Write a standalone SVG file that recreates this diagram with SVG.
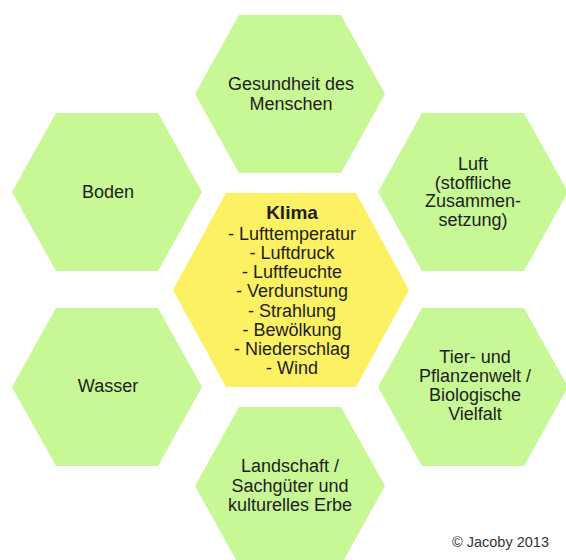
<svg xmlns="http://www.w3.org/2000/svg" width="566" height="560" viewBox="0 0 566 560">
<style>
.hex{fill:#c8f795;}
.core{fill:#fbf163;}
.t{font-family:"Liberation Sans",Arial,sans-serif;font-size:18px;fill:#1e1e1e;text-anchor:middle;}
.b{font-weight:bold;font-size:19px;}
.c{font-family:"Liberation Sans",Arial,sans-serif;font-size:14.5px;fill:#333;}
</style>
<rect width="566" height="560" fill="#ffffff"/>
<g id="gesundheit">
<polygon class="hex" points="195,94 239,15 341,15 385,94 341,173 239,173"/>
<text class="t" x="291" y="90">Gesundheit des<tspan x="291" y="110">Menschen</tspan></text>
</g>
<g id="boden">
<polygon class="hex" points="12,192 56,113 158,113 202,192 158,271 56,271"/>
<text class="t" x="108" y="198">Boden</text>
</g>
<g id="luft">
<polygon class="hex" points="378,192 422,113 524,113 568,192 524,271 422,271"/>
<text class="t" x="473" y="170">Luft<tspan x="473" y="188.5">(stoffliche</tspan><tspan x="473" y="207">Zusammen-</tspan><tspan x="473" y="225.5">setzung)</tspan></text>
</g>
<g id="wasser">
<polygon class="hex" points="12,387 56,308 158,308 202,387 158,466 56,466"/>
<text class="t" x="108" y="392">Wasser</text>
</g>
<g id="tier">
<polygon class="hex" points="378,387 422,308 524,308 568,387 524,466 422,466"/>
<text class="t" x="475" y="363">Tier- und<tspan x="475" y="382">Pflanzenwelt /</tspan><tspan x="475" y="401">Biologische</tspan><tspan x="475" y="420">Vielfalt</tspan></text>
</g>
<g id="landschaft">
<polygon class="hex" points="195,486 239,407 341,407 385,486 341,565 239,565"/>
<text class="t" x="290" y="472">Landschaft /<tspan x="290" y="491.5">Sachgüter und</tspan><tspan x="290" y="511">kulturelles Erbe</tspan></text>
</g>
<g id="klima">
<polygon class="core" points="173,290 226,193 356,193 409,290 356,387 226,387"/>
<text class="t" x="292" y="219"><tspan class="b">Klima</tspan><tspan x="292" y="240">- Lufttemperatur</tspan><tspan x="292" y="259">- Luftdruck</tspan><tspan x="292" y="278">- Luftfeuchte</tspan><tspan x="292" y="297">- Verdunstung</tspan><tspan x="292" y="316.5">- Strahlung</tspan><tspan x="292" y="335.5">- Bewölkung</tspan><tspan x="292" y="354.5">- Niederschlag</tspan><tspan x="292" y="373.5">- Wind</tspan></text>
</g>
<g id="connectors"></g>
<text class="c" x="452" y="547">© Jacoby 2013</text>
</svg>
